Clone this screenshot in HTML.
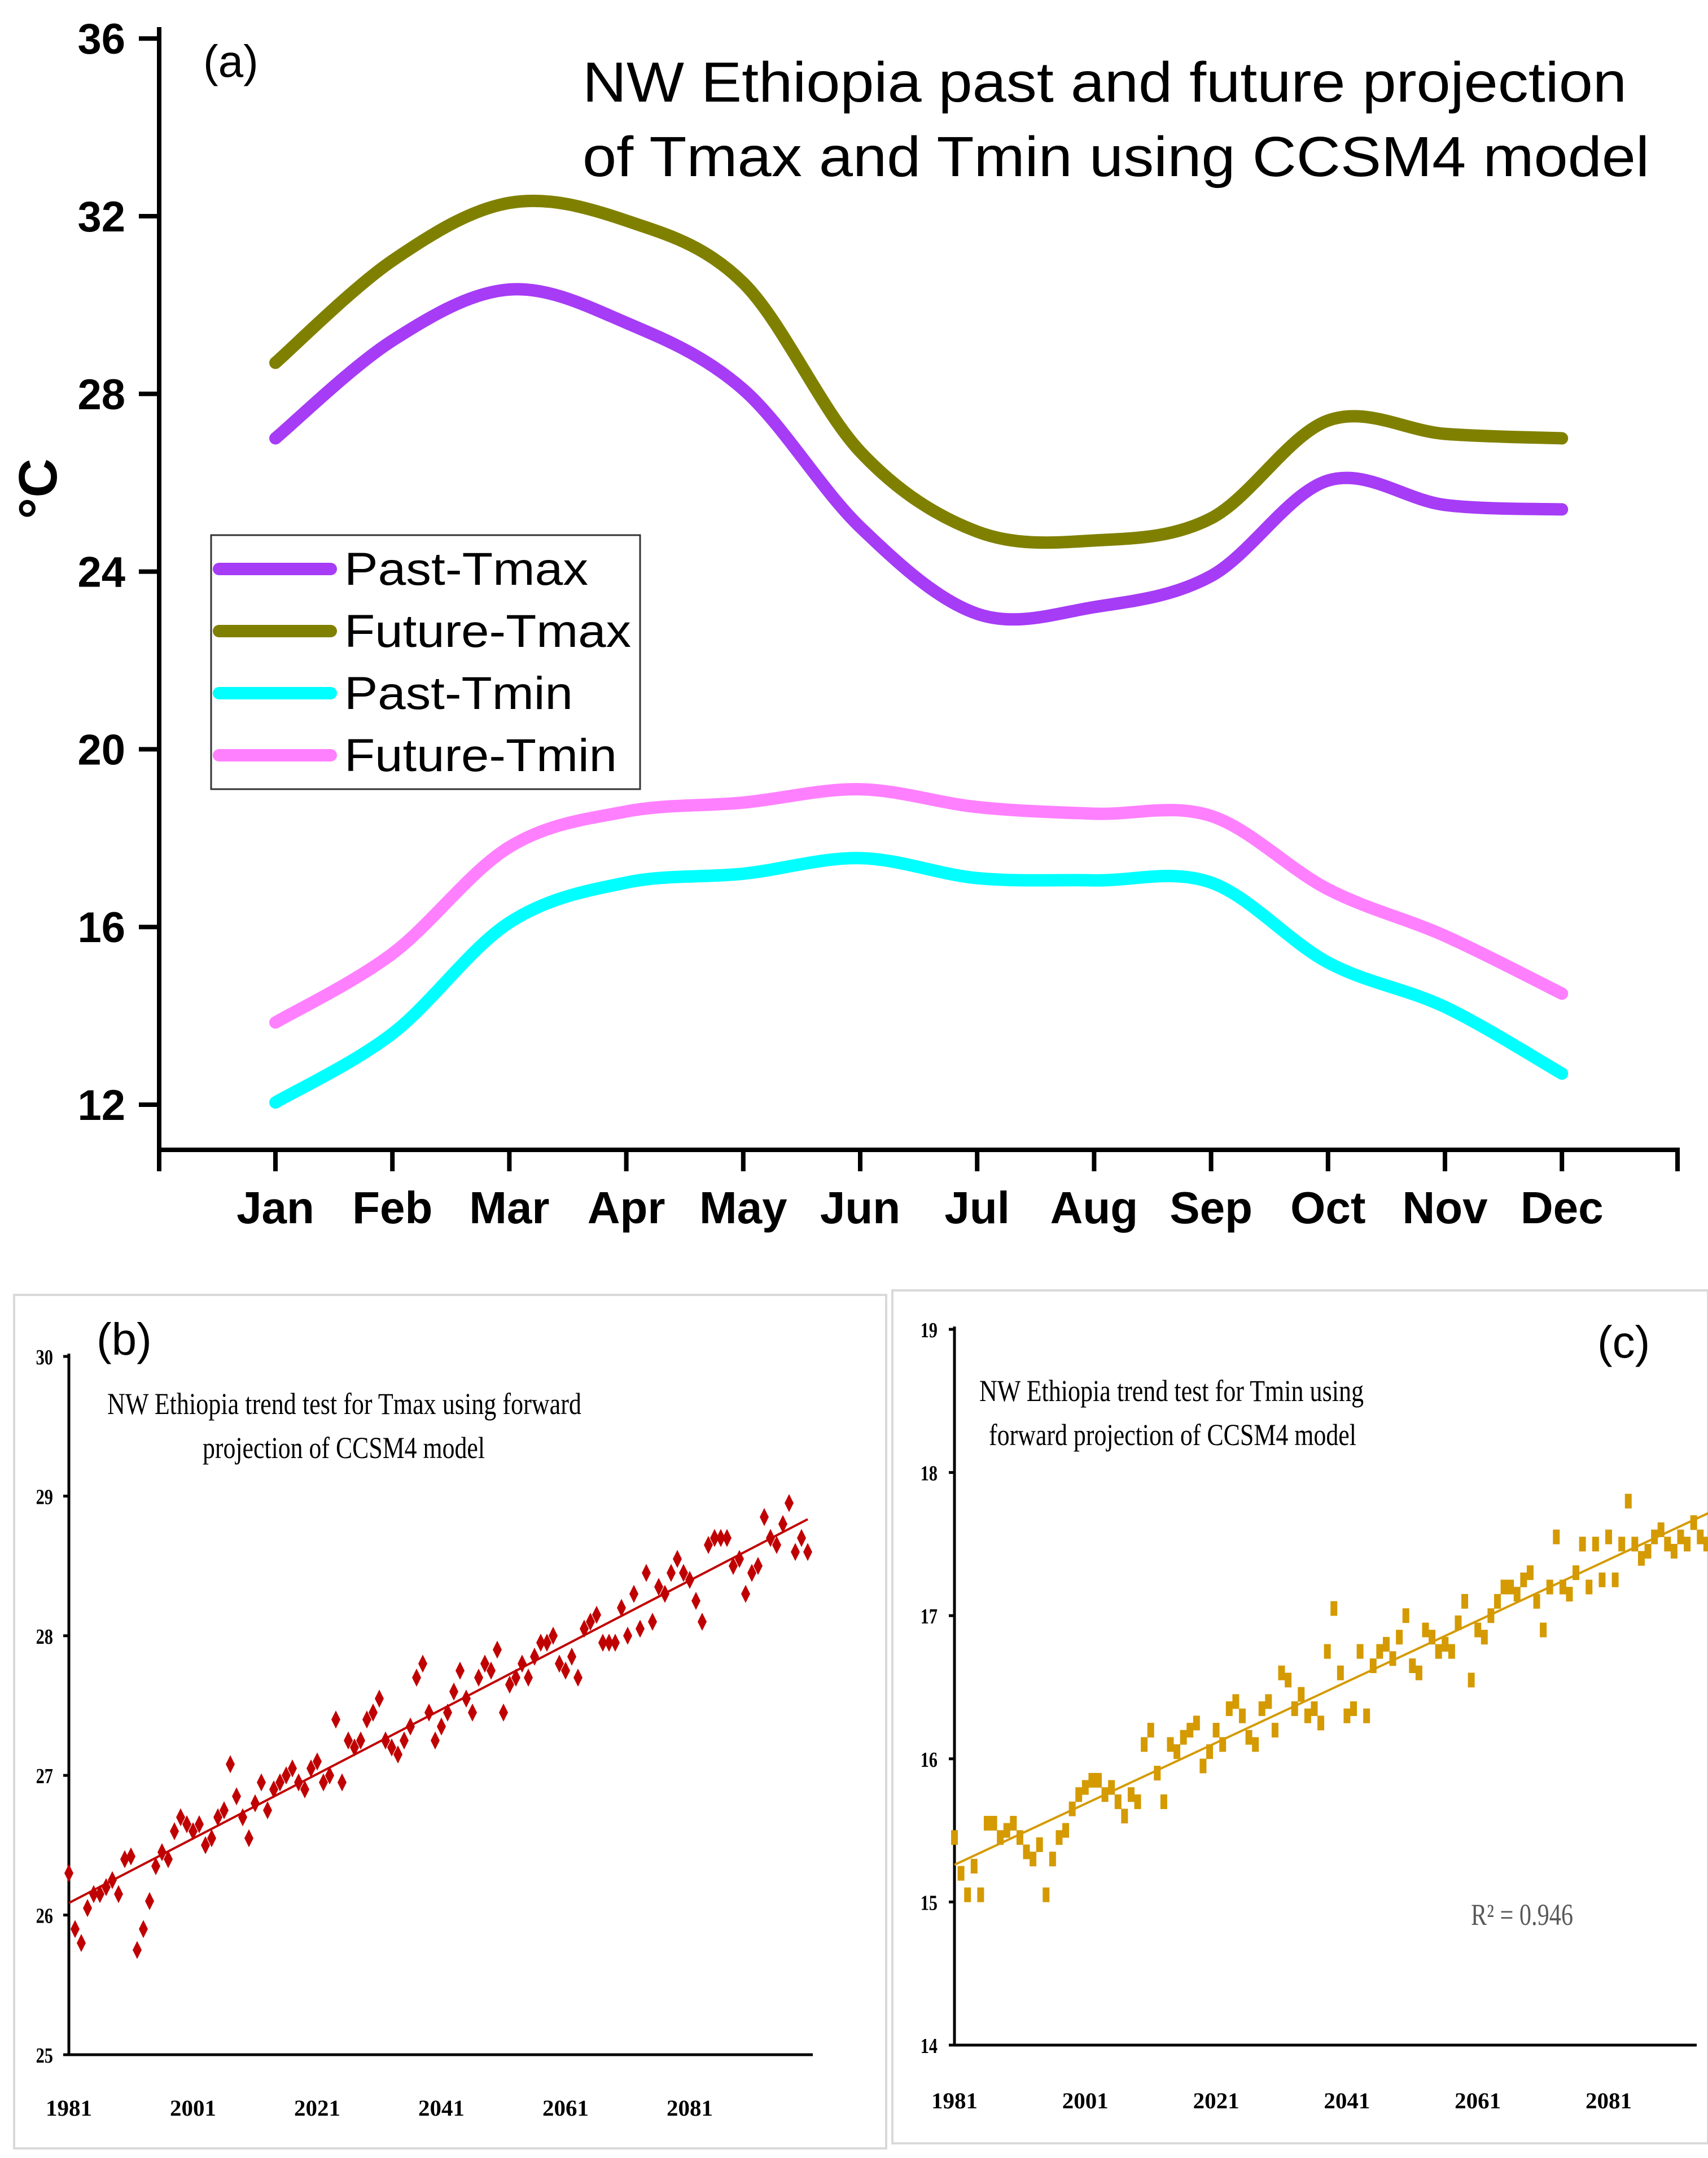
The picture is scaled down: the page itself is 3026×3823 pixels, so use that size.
<!DOCTYPE html>
<html><head><meta charset="utf-8"><style>
html,body{margin:0;padding:0;background:#fff}
svg{display:block}
</style></head><body>
<svg id="fig" width="3026" height="3823" viewBox="0 0 3026 3823" xmlns="http://www.w3.org/2000/svg">
<rect width="3026" height="3823" fill="#fff"/>
<g id="pa"></g>
<g id="pb"></g>
<g id="pc"></g>
</svg>
<script>
const months=["Jan","Feb","Mar","Apr","May","Jun","Jul","Aug","Sep","Oct","Nov","Dec"];
const pastTmax=[27.0,29.2,30.35,29.6,28.1,25.0,23.05,23.2,23.9,26.05,25.5,25.4];
const futureTmax=[28.7,31.0,32.3,31.9,30.5,26.7,24.9,24.7,25.2,27.4,27.1,27.0];
const pastTmin=[12.05,13.6,16.1,17.0,17.2,17.55,17.1,17.05,17.0,15.2,14.2,12.7];
const futureTmin=[13.85,15.4,17.8,18.6,18.8,19.1,18.7,18.55,18.5,16.85,15.8,14.5];
const aYTicks=[12,16,20,24,28,32,36];
const seriesNames=["Past-Tmax","Future-Tmax","Past-Tmin","Future-Tmin"];

const yearsStart=1981;
const tmaxYearly=[26.3,25.9,25.8,26.05,26.15,26.15,26.2,26.25,26.15,26.4,
26.42,25.75,25.9,26.1,26.35,26.45,26.4,26.6,26.7,26.65,
26.6,26.65,26.5,26.55,26.7,26.75,27.08,26.85,26.7,26.55,
26.8,26.95,26.75,26.9,26.95,27.0,27.05,26.95,26.9,27.05,
27.1,26.95,27.0,27.4,26.95,27.25,27.2,27.25,27.4,27.45,
27.55,27.25,27.2,27.15,27.25,27.35,27.7,27.8,27.45,27.25,
27.35,27.45,27.6,27.75,27.55,27.45,27.7,27.8,27.75,27.9,
27.45,27.65,27.7,27.8,27.7,27.85,27.95,27.95,28.0,27.8,
27.75,27.85,27.7,28.05,28.1,28.15,27.95,27.95,27.95,28.2,
28.0,28.3,28.05,28.45,28.1,28.35,28.3,28.45,28.55,28.45,
28.4,28.25,28.1,28.65,28.7,28.7,28.7,28.5,28.55,28.3,
28.45,28.5,28.85,28.7,28.65,28.8,28.95,28.6,28.7,28.6];
const tminYearly=[15.45,15.2,15.05,15.25,15.05,15.55,15.55,15.45,15.5,15.55,
15.45,15.35,15.3,15.4,15.05,15.3,15.45,15.5,15.65,15.75,
15.8,15.85,15.85,15.75,15.8,15.7,15.6,15.75,15.7,16.1,
16.2,15.9,15.7,16.1,16.05,16.15,16.2,16.25,15.95,16.05,
16.2,16.1,16.35,16.4,16.3,16.15,16.1,16.35,16.4,16.2,
16.6,16.55,16.35,16.45,16.3,16.35,16.25,16.75,17.05,16.6,
16.3,16.35,16.75,16.3,16.65,16.75,16.8,16.7,16.85,17.0,
16.65,16.6,16.9,16.85,16.75,16.8,16.75,16.95,17.1,16.55,
16.9,16.85,17.0,17.1,17.2,17.2,17.15,17.25,17.3,17.1,
16.9,17.2,17.55,17.2,17.15,17.3,17.5,17.2,17.5,17.25,
17.55,17.25,17.5,17.8,17.5,17.4,17.45,17.55,17.6,17.5,
17.45,17.55,17.5,17.65,17.55,17.5,17.85,17.55,17.6,17.85];
const bYTicks=[25,26,27,28,29,30];
const cYTicks=[14,15,16,17,18,19];
const yearTicks=[1981,2001,2021,2041,2061,2081];

const NS="http://www.w3.org/2000/svg";
function mk(parent,tag,attrs,text){const e=document.createElementNS(NS,tag);for(const k in attrs)e.setAttribute(k,attrs[k]);if(text!==undefined)e.textContent=text;parent.appendChild(e);return e;}

// ---------- Panel A ----------
const pa=document.getElementById('pa');
const ax=i=>488+i*207.2;
const ay=v=>1957-(v-12)*78.7;
let e;
e=mk(pa,'line',{x1:282,y1:68-20,x2:282,y2:2041,stroke:'#000','stroke-width':8});

e=mk(pa,'line',{x1:278,y1:2037,x2:2976,y2:2037,stroke:'#000','stroke-width':8});

aYTicks.forEach(t=>{
 e=mk(pa,'line',{x1:246,y1:ay(t),x2:282,y2:ay(t),stroke:'#000','stroke-width':8});
 
 e=mk(pa,'text',{x:222,y:ay(t)+27,'text-anchor':'end','font-family':'Liberation Sans, sans-serif','font-weight':'bold','font-size':76},String(t));
 
});
[-0.94].concat(months.map((m,i)=>i),[12.25]).forEach(i=>{
 const x=i<0?282:(i>11?2972:ax(i));
 e=mk(pa,'line',{x1:x,y1:2037,x2:x,y2:2075,stroke:'#000','stroke-width':8});
 
});
months.forEach((m,i)=>{
 e=mk(pa,'text',{x:ax(i),y:2167,'text-anchor':'middle','font-family':'Liberation Sans, sans-serif','font-weight':'bold','font-size':80},m);
 
});
e=mk(pa,'text',{x:0,y:0,transform:'translate(100,866) rotate(-90)','text-anchor':'middle','font-family':'Liberation Sans, sans-serif','font-weight':'bold','font-size':96},'°C');

e=mk(pa,'text',{x:360,y:136,'font-family':'Liberation Sans, sans-serif','font-size':80},'(a)');

e=mk(pa,'text',{x:1032,y:180,'font-family':'Liberation Sans, sans-serif','font-size':100,textLength:1850,lengthAdjust:'spacingAndGlyphs'},'NW Ethiopia past and future projection');

e=mk(pa,'text',{x:1032,y:312,'font-family':'Liberation Sans, sans-serif','font-size':100,textLength:1890,lengthAdjust:'spacingAndGlyphs'},'of Tmax and Tmin using CCSM4 model');


function smoothPath(pts){
 let d=`M${pts[0][0]},${pts[0][1]}`;
 for(let i=0;i<pts.length-1;i++){
  const p0=pts[Math.max(0,i-1)],p1=pts[i],p2=pts[i+1],p3=pts[Math.min(pts.length-1,i+2)];
  const c1=[p1[0]+(p2[0]-p0[0])/6,p1[1]+(p2[1]-p0[1])/6];
  const c2=[p2[0]-(p3[0]-p1[0])/6,p2[1]-(p3[1]-p1[1])/6];
  d+=` C${c1[0]},${c1[1]} ${c2[0]},${c2[1]} ${p2[0]},${p2[1]}`;
 }
 return d;
}
const colors=["#a63cf6","#808000","#00ffff","#ff80ff"];
const allSeries=[pastTmax,futureTmax,pastTmin,futureTmin];
const lineNames=['line-past-tmax','line-future-tmax','line-past-tmin','line-future-tmin'];
allSeries.forEach((s,k)=>{
 e=mk(pa,'path',{d:smoothPath(s.map((v,i)=>[ax(i),ay(v)])),fill:'none',stroke:colors[k],'stroke-width':22,'stroke-linecap':'round','stroke-linejoin':'round'});
 
});
e=mk(pa,'rect',{x:374,y:948,width:760,height:450,fill:'#fff',stroke:'#333','stroke-width':3});

const legendLens=[432,508,405,483];
seriesNames.forEach((n,k)=>{
 const y=1008+k*110;
 e=mk(pa,'line',{x1:388,y1:y,x2:586,y2:y,stroke:colors[k],'stroke-width':22,'stroke-linecap':'round'});
 
 e=mk(pa,'text',{x:610,y:y+28,'font-family':'Liberation Sans, sans-serif','font-size':82,textLength:legendLens[k],lengthAdjust:'spacingAndGlyphs'},n);
 
});

// ---------- scatter panels ----------
function scatterPanel(g,opt,vals,yTicks){
 const sx=yr=>opt.x0+(yr-1981)*opt.pxYr;
 const sy=v=>opt.yBot-(v-yTicks[0])*(opt.yBot-opt.yTop)/(yTicks[yTicks.length-1]-yTicks[0]);
 let el=mk(g,'rect',opt.frame);
 
 el=mk(g,'line',{x1:opt.x0,y1:opt.yTop-5,x2:opt.x0,y2:opt.yBot,stroke:'#000','stroke-width':5});
 
 el=mk(g,'line',{x1:opt.x0,y1:opt.yBot,x2:opt.xEnd,y2:opt.yBot,stroke:'#000','stroke-width':5});
 
 yTicks.forEach(t=>{
  el=mk(g,'line',{x1:opt.x0-10,y1:sy(t),x2:opt.x0,y2:sy(t),stroke:'#000','stroke-width':5});
  
  el=mk(g,'text',{x:opt.x0-opt.lblOff,y:sy(t)+14,'text-anchor':'end','font-family':'Liberation Serif, serif','font-weight':'bold','font-size':38,transform:`translate(${opt.x0-opt.lblOff},0) scale(0.8,1) translate(${-(opt.x0-opt.lblOff)},0)`},String(t));
  
 });
 yearTicks.forEach(t=>{
  el=mk(g,'text',{x:sx(t),y:opt.xLblY,'text-anchor':'middle','font-family':'Liberation Serif, serif','font-weight':'bold','font-size':40,textLength:82,lengthAdjust:'spacingAndGlyphs'},String(t));
  
 });
 const n=vals.length;let mx=0,my=0;vals.forEach((v,i)=>{mx+=i;my+=v});mx/=n;my/=n;
 let sxy=0,sxx=0;vals.forEach((v,i)=>{sxy+=(i-mx)*(v-my);sxx+=(i-mx)*(i-mx)});
 const b=sxy/sxx,a=my-b*mx;
 vals.forEach((v,i)=>{
  const x=sx(yearsStart+i),y=sy(v);
  if(opt.marker==='diamond'){
   el=mk(g,'polygon',{points:`${x},${y-16} ${x+8},${y} ${x},${y+16} ${x-8},${y}`,fill:opt.color});
  }else{
   el=mk(g,'rect',{x:x-6,y:y-13,width:12,height:26,fill:opt.color});
  }
  
 });
 el=mk(g,'line',{x1:sx(yearsStart),y1:sy(a),x2:sx(yearsStart+n-1),y2:sy(a+b*(n-1)),stroke:opt.color,'stroke-width':4});
 
}
const pb=document.getElementById('pb'),pc=document.getElementById('pc');
scatterPanel(pb,{x0:122,xEnd:1440,pxYr:11,yTop:2403,yBot:3640,xLblY:3748,lblOff:28,color:'#c00000',marker:'diamond',
 frame:{x:25,y:2294,width:1545,height:1512,fill:'none',stroke:'#d9d9d9','stroke-width':4}},tmaxYearly,bYTicks);
scatterPanel(pc,{x0:1691,xEnd:3006,pxYr:11.59,yTop:2355,yBot:3623,xLblY:3735,lblOff:30,color:'#d49a00',marker:'square',
 frame:{x:1581,y:2286,width:1445,height:1511,fill:'none',stroke:'#d9d9d9','stroke-width':4}},tminYearly,cYTicks);

e=mk(pb,'text',{x:171,y:2400,'font-family':'Liberation Sans, sans-serif','font-size':80},'(b)');

e=mk(pb,'text',{x:190,y:2505,'font-family':'Liberation Serif, serif','font-size':54,textLength:840,lengthAdjust:'spacingAndGlyphs'},'NW Ethiopia trend test for Tmax using forward');

e=mk(pb,'text',{x:359,y:2583,'font-family':'Liberation Serif, serif','font-size':54,textLength:500,lengthAdjust:'spacingAndGlyphs'},'projection of CCSM4 model');

e=mk(pc,'text',{x:2830,y:2405,'font-family':'Liberation Sans, sans-serif','font-size':80},'(c)');

e=mk(pc,'text',{x:1735,y:2482,'font-family':'Liberation Serif, serif','font-size':54,textLength:681,lengthAdjust:'spacingAndGlyphs'},'NW Ethiopia trend test for Tmin using');

e=mk(pc,'text',{x:1752,y:2560,'font-family':'Liberation Serif, serif','font-size':54,textLength:651,lengthAdjust:'spacingAndGlyphs'},'forward projection of CCSM4 model');

e=mk(pc,'text',{x:2606,y:3410,'font-family':'Liberation Serif, serif','font-size':54,fill:'#595959',textLength:181,lengthAdjust:'spacingAndGlyphs'},'R² = 0.946');

</script>
</body></html>
